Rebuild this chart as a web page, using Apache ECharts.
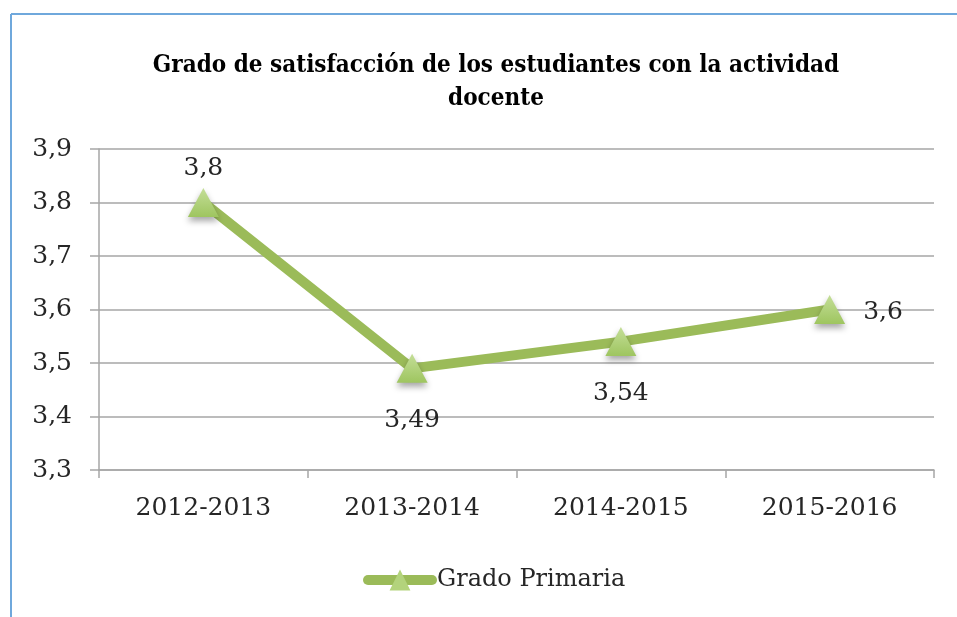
<!DOCTYPE html>
<html>
<head>
<meta charset="utf-8">
<script src="https://cdn.jsdelivr.net/npm/echarts@6/dist/echarts.min.js"></script>
<style>html,body{margin:0;padding:0;background:#fff;}#c{width:957px;height:617px;}</style>
</head>
<body>
<div id="c"></div>
<script>
const categories = ['2012-2013', '2013-2014', '2014-2015', '2015-2016'];
const gradoPrimaria = [3.8, 3.49, 3.54, 3.6];
const seriesName = 'Grado Primaria';
const titleText = 'Grado de satisfacción de los estudiantes con la actividad\ndocente';

const chart = echarts.init(document.getElementById('c'), null, {renderer: 'canvas'});
const labelPos = ['top', 'bottom', 'bottom', 'right'];
const labelDist = [7, 25, 25, 18];
const fmt = v => String(v).replace('.', ',');
const serif = 'DejaVu Serif';
const textColor = '#262626';
const gridColor = '#a6a6a6';
const markerFill = new echarts.graphic.LinearGradient(0, 0, 0, 1, [
  {offset: 0, color: '#c4de98'},
  {offset: 1, color: '#9ec55f'}
]);

chart.setOption({
  animation: false,
  backgroundColor: '#fff',
  title: {
    text: titleText,
    left: 491,
    top: 44,
    textAlign: 'center',
    textStyle: {
      fontFamily: 'DejaVu Serif Condensed',
      fontWeight: 'bold',
      fontSize: 24,
      lineHeight: 33,
      color: '#000'
    }
  },
  legend: {
    data: [seriesName],
    left: 358,
    top: 563,
    itemWidth: 64,
    itemHeight: 26,
    itemGap: 4,
    lineStyle: {width: 10, color: '#9bbb59', cap: 'round'},
    itemStyle: {color: '#b3d37c'},
    textStyle: {fontFamily: serif, fontSize: 24, color: textColor}
  },
  grid: {left: 99, right: 23, top: 149, bottom: 147, containLabel: false},
  xAxis: {
    type: 'category',
    data: categories,
    boundaryGap: true,
    axisLine: {lineStyle: {color: gridColor, width: 1.5}},
    axisTick: {show: true, length: 8, lineStyle: {color: gridColor, width: 1.5}},
    axisLabel: {fontFamily: serif, fontSize: 25, color: textColor, margin: 26}
  },
  yAxis: {
    type: 'value',
    min: 3.3,
    max: 3.9,
    interval: 0.1,
    axisLine: {show: true, lineStyle: {color: gridColor, width: 1.5}},
    axisTick: {show: true, length: 9, lineStyle: {color: gridColor, width: 1.5}},
    splitLine: {show: true, lineStyle: {color: gridColor, width: 1.5}},
    axisLabel: {
      fontFamily: serif, fontSize: 25, color: textColor, margin: 27,
      formatter: v => v.toFixed(1).replace('.', ',')
    }
  },
  series: [{
    name: seriesName,
    type: 'line',
    data: gradoPrimaria.map((v, i) => ({
      value: v,
      label: {position: labelPos[i], distance: labelDist[i], offset: labelPos[i] === 'right' ? [0, 3] : [0, 0]}
    })),
    symbol: 'triangle',
    symbolSize: [31, 29],
    lineStyle: {color: '#9bbb59', width: 10, cap: 'round', join: 'round'},
    itemStyle: {
      color: markerFill,
      shadowColor: 'rgba(0,0,0,0.35)',
      shadowBlur: 6,
      shadowOffsetY: 4
    },
    label: {
      show: true,
      fontFamily: serif,
      fontSize: 25,
      color: textColor,
      formatter: p => fmt(p.value)
    }
  }],
  graphic: [
    {type: 'line', shape: {x1: 11, y1: 14, x2: 957, y2: 14}, style: {stroke: '#6fa8dc', lineWidth: 2}, silent: true},
    {type: 'line', shape: {x1: 11, y1: 14, x2: 11, y2: 617}, style: {stroke: '#6fa8dc', lineWidth: 2}, silent: true}
  ]
});
</script>
</body>
</html>
